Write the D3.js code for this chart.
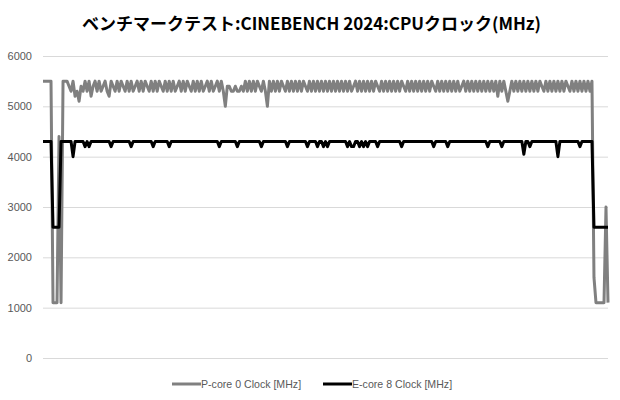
<!DOCTYPE html>
<html>
<head>
<meta charset="utf-8">
<script src="https://cdn.jsdelivr.net/npm/d3@7"></script>
<style>
  body { margin: 0; background: #fff; }
  svg { display: block; font-family: "Noto Sans CJK JP", "Noto Sans", sans-serif; }
</style>
</head>
<body>
<div id="chart"></div>
<script>
// Chart values (one sample every ~2px)
const title = "ベンチマークテスト:CINEBENCH 2024:CPUクロック(MHz)";
const seriesNames = ["P-core 0 Clock [MHz]", "E-core 8 Clock [MHz]"];
const yTicks = [0, 1000, 2000, 3000, 4000, 5000, 6000];

const pcore = [
  5500,5500,5500,5500,5500,1100,1100,1100,4400,1100,5500,5500,5500,
  5400,5300,5500,5200,5300,5100,5400,5300,5500,5300,
  5500,5200,5400,5500,5300,5500,5300,5400,5500,5300,
  5200,5500,5400,5300,5500,5300,5500,5400,5300,5500,
  5300,5500,5300,5400,5500,5300,5500,5300,5500,5400,
  5300,5500,5300,5500,5300,5500,5400,5300,5500,5300,
  5500,5300,5500,5300,5400,5500,5300,5500,5300,5500,
  5400,5300,5500,5300,5500,5300,5500,5300,5400,5500,
  5300,5500,5300,5400,5500,5300,5500,5300,5000,5400,
  5400,5300,5300,5400,5300,5300,5400,5300,5500,5300,
  5500,5300,5500,5300,5500,5400,5300,5500,5300,5000,
  5500,5300,5500,5300,5500,5300,5500,5400,5300,5500,
  5300,5500,5300,5500,5300,5500,5300,5500,5400,5300,
  5500,5300,5500,5300,5500,5300,5500,5300,5500,5300,
  5500,5300,5500,5300,5500,5300,5500,5300,5500,5300,
  5500,5300,5400,5500,5300,5500,5300,5500,5300,5500,
  5300,5500,5300,5500,5400,5300,5500,5300,5500,5300,
  5500,5300,5500,5300,5500,5300,5500,5400,5300,5500,
  5300,5500,5300,5500,5300,5500,5300,5500,5300,5500,
  5300,5500,5400,5300,5500,5300,5500,5300,5500,5300,
  5500,5300,5500,5300,5500,5300,5400,5500,5300,5500,
  5300,5500,5300,5500,5300,5500,5300,5500,5300,5500,
  5300,5500,5300,5500,5200,5500,5300,5500,5300,5100,
  5300,5500,5300,5500,5300,5500,5300,5500,5300,5500,
  5300,5500,5300,5500,5300,5500,5400,5300,5500,5300,
  5500,5300,5500,5300,5500,5300,5500,5300,5500,5400,
  5300,5500,5300,5500,5300,5500,5300,5500,5300,5500,
  5300,5500,
  1600,1100,1100,1100,1100,1100,3000,1100
];

const ecore = [
  4300,4300,4300,4300,4300,2600,2600,2600,2600,4300,4300,4300,4300,
  4300,4300,4000,4300,4300,4300,4300,4300,4200,4300,
  4200,4300,4300,4300,4300,4300,4300,4300,4300,4300,
  4300,4200,4300,4300,4300,4300,4300,4300,4300,4300,
  4300,4200,4300,4300,4300,4300,4300,4300,4300,4300,
  4300,4300,4200,4300,4300,4300,4300,4300,4300,4300,
  4200,4300,4300,4300,4300,4300,4300,4300,4300,4300,
  4300,4300,4300,4300,4300,4300,4300,4300,4300,4300,
  4300,4300,4300,4300,4300,4200,4300,4300,4300,4300,
  4300,4300,4300,4300,4200,4300,4300,4300,4300,4300,
  4300,4300,4300,4300,4300,4300,4200,4300,4300,4300,
  4300,4300,4300,4300,4300,4300,4300,4300,4300,4200,
  4300,4300,4300,4300,4300,4300,4300,4300,4300,4200,
  4300,4300,4300,4300,4200,4300,4300,4200,4300,4200,
  4300,4300,4300,4300,4300,4300,4300,4300,4300,4200,
  4300,4200,4200,4300,4300,4200,4300,4200,4300,4200,
  4300,4300,4300,4300,4200,4300,4300,4300,4300,4300,
  4300,4300,4300,4300,4300,4300,4200,4300,4300,4300,
  4300,4300,4300,4300,4300,4300,4300,4300,4300,4300,
  4300,4300,4200,4300,4300,4300,4300,4300,4300,4200,
  4300,4300,4300,4300,4300,4300,4300,4300,4300,4300,
  4300,4300,4300,4300,4300,4300,4300,4300,4300,4200,
  4300,4300,4300,4300,4300,4300,4200,4300,4300,4300,
  4300,4300,4300,4300,4300,4300,4300,4050,4300,4300,
  4200,4300,4300,4300,4300,4300,4300,4300,4300,4300,
  4300,4300,4300,4300,4000,4300,4300,4300,4300,4300,
  4300,4300,4300,4300,4300,4200,4300,4300,4300,4300,
  4300,4300,
  2600,2600,2600,2600,2600,2600,2600,2600
];

const width = 620;
const height = 400;
const plot = { left: 43, right: 608, top: 56, bottom: 358 };

const svg = d3.select("#chart").append("svg")
    .attr("width", width)
    .attr("height", height)
    .attr("viewBox", [0, 0, width, height]);

// Scales
const x = d3.scaleLinear()
    .domain([0, pcore.length - 1])
    .range([plot.left, plot.right]);

const y = d3.scaleLinear()
    .domain([0, 6000])
    .range([plot.bottom, plot.top]);

// Title
svg.append("text")
    .attr("x", 311.5)
    .attr("y", 30)
    .attr("text-anchor", "middle")
    .attr("font-size", 17)
    .attr("font-weight", "bold")
    .attr("fill", "#000")
    .text(title);

// Gridlines + y labels
const yAxis = d3.axisLeft(y)
    .tickValues(yTicks)
    .tickSize(-(plot.right - plot.left))
    .tickPadding(11)
    .tickFormat(d3.format("d"));

svg.append("g")
    .attr("transform", `translate(${plot.left},0)`)
    .call(yAxis)
    .call(g => g.select(".domain").remove())
    .call(g => g.selectAll(".tick line").attr("stroke", "#d9d9d9").attr("stroke-width", 1))
    .call(g => g.selectAll(".tick text")
        .attr("fill", "#595959")
        .attr("font-size", 11)
        .attr("font-family", "Liberation Sans, Arial, sans-serif"));

// Lines
const line = d3.line()
    .x((d, i) => x(i))
    .y(d => y(d));

svg.append("path")
    .datum(pcore)
    .attr("fill", "none")
    .attr("stroke", "#808080")
    .attr("stroke-width", 3)
    .attr("stroke-linejoin", "round")
    .attr("d", line);

svg.append("path")
    .datum(ecore)
    .attr("fill", "none")
    .attr("stroke", "#000")
    .attr("stroke-width", 3)
    .attr("stroke-linejoin", "round")
    .attr("d", line);

// Legend
const legendColors = ["#808080", "#000"];
const legendX = [172, 323];

seriesNames.forEach((name, i) => {
    const g = svg.append("g")
        .attr("transform", `translate(${legendX[i]},384)`);

    g.append("line")
        .attr("x1", 0)
        .attr("x2", 29)
        .attr("stroke", legendColors[i])
        .attr("stroke-width", 3);

    g.append("text")
        .attr("x", 29)
        .attr("dy", "0.35em")
        .attr("font-size", 10.6)
        .attr("fill", "#595959")
        .attr("font-family", "Liberation Sans, Arial, sans-serif")
        .text(name);
});
</script>
</body>
</html>
